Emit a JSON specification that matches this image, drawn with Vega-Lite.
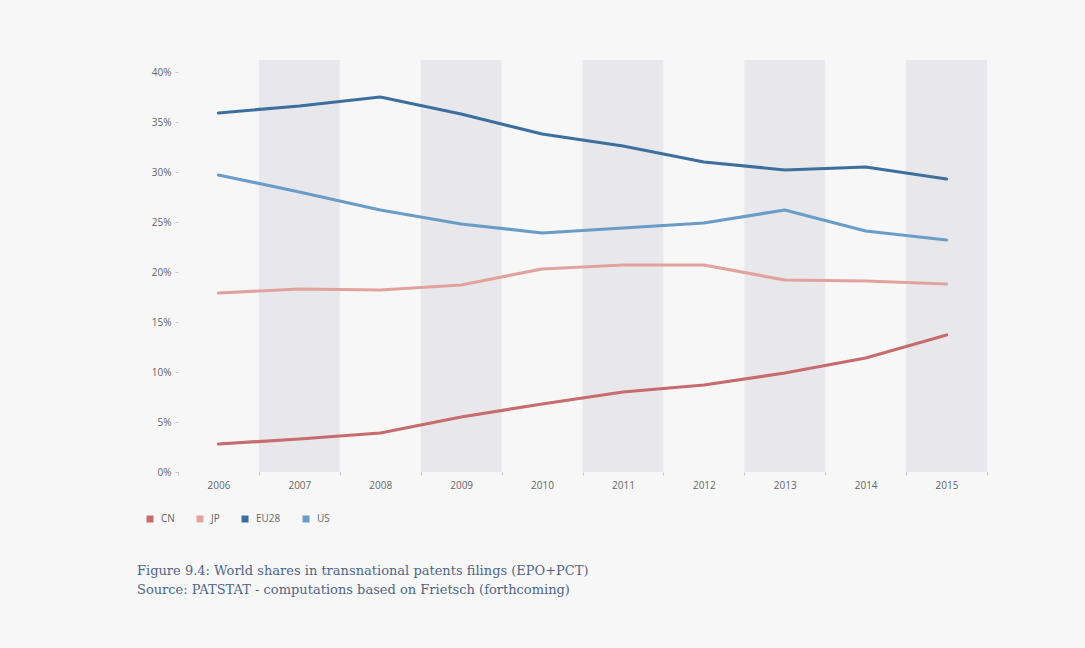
{
  "$schema": "https://vega.github.io/schema/vega-lite/v6.json",
  "width": 809,
  "height": 412,
  "autosize": "none",
  "padding": {"left": 178, "top": 60, "right": 98, "bottom": 176},
  "background": "#f7f7f8",
  "config": {"view": {"stroke": null}, "font": "Open Sans"},
  "datasets": {
    "bands": [
      {"year": 2007}, {"year": 2009}, {"year": 2011}, {"year": 2013}, {"year": 2015}
    ],
    "shares": [
      {"year": 2006, "region": "CN", "share": 0.028},
      {"year": 2007, "region": "CN", "share": 0.033},
      {"year": 2008, "region": "CN", "share": 0.039},
      {"year": 2009, "region": "CN", "share": 0.055},
      {"year": 2010, "region": "CN", "share": 0.068},
      {"year": 2011, "region": "CN", "share": 0.080},
      {"year": 2012, "region": "CN", "share": 0.087},
      {"year": 2013, "region": "CN", "share": 0.099},
      {"year": 2014, "region": "CN", "share": 0.114},
      {"year": 2015, "region": "CN", "share": 0.137},
      {"year": 2006, "region": "JP", "share": 0.179},
      {"year": 2007, "region": "JP", "share": 0.183},
      {"year": 2008, "region": "JP", "share": 0.182},
      {"year": 2009, "region": "JP", "share": 0.187},
      {"year": 2010, "region": "JP", "share": 0.203},
      {"year": 2011, "region": "JP", "share": 0.207},
      {"year": 2012, "region": "JP", "share": 0.207},
      {"year": 2013, "region": "JP", "share": 0.192},
      {"year": 2014, "region": "JP", "share": 0.191},
      {"year": 2015, "region": "JP", "share": 0.188},
      {"year": 2006, "region": "EU28", "share": 0.359},
      {"year": 2007, "region": "EU28", "share": 0.366},
      {"year": 2008, "region": "EU28", "share": 0.375},
      {"year": 2009, "region": "EU28", "share": 0.358},
      {"year": 2010, "region": "EU28", "share": 0.338},
      {"year": 2011, "region": "EU28", "share": 0.326},
      {"year": 2012, "region": "EU28", "share": 0.310},
      {"year": 2013, "region": "EU28", "share": 0.302},
      {"year": 2014, "region": "EU28", "share": 0.305},
      {"year": 2015, "region": "EU28", "share": 0.293},
      {"year": 2006, "region": "US", "share": 0.297},
      {"year": 2007, "region": "US", "share": 0.280},
      {"year": 2008, "region": "US", "share": 0.262},
      {"year": 2009, "region": "US", "share": 0.248},
      {"year": 2010, "region": "US", "share": 0.239},
      {"year": 2011, "region": "US", "share": 0.244},
      {"year": 2012, "region": "US", "share": 0.249},
      {"year": 2013, "region": "US", "share": 0.262},
      {"year": 2014, "region": "US", "share": 0.241},
      {"year": 2015, "region": "US", "share": 0.232}
    ]
  },
  "title": {
    "text": ["Figure 9.4: World shares in transnational patents filings (EPO+PCT)", "Source:  PATSTAT - computations based on Frietsch (forthcoming)"],
    "orient": "bottom",
    "anchor": "start",
    "dx": -8,
    "offset": 41,
    "font": "DejaVu Serif",
    "fontSize": 13,
    "fontWeight": "normal",
    "color": "#4f6685",
    "lineHeight": 19
  },
  "encoding": {
    "x": {
      "field": "year",
      "type": "ordinal",
      "scale": {"domain": [2006, 2007, 2008, 2009, 2010, 2011, 2012, 2013, 2014, 2015], "paddingInner": 0, "paddingOuter": 0},
      "axis": {
        "title": null,
        "labelAngle": 0,
        "labelColor": "#666666",
        "labelFontSize": 10,
        "labelPadding": 5,
        "domain": false,
        "tickBand": "extent",
        "tickSize": 3,
        "tickColor": "#c8c8c8"
      }
    }
  },
  "layer": [
    {
      "data": {"name": "bands"},
      "mark": {"type": "bar", "color": "#e8e8ec"}
    },
    {
      "data": {"name": "shares"},
      "mark": {"type": "line", "strokeWidth": 3.2, "strokeCap": "round", "strokeJoin": "round"},
      "encoding": {
        "y": {
          "field": "share",
          "type": "quantitative",
          "scale": {"domain": [0, 0.412], "nice": false},
          "axis": {
            "title": null,
            "values": [0, 0.05, 0.1, 0.15, 0.2, 0.25, 0.3, 0.35, 0.4],
            "format": ".0%",
            "labelColor": "#666666",
            "labelFontSize": 10,
            "labelPadding": 4,
            "domain": false,
            "grid": false,
            "tickSize": 3,
            "tickColor": "#c8c8c8"
          }
        },
        "color": {
          "field": "region",
          "type": "nominal",
          "scale": {"domain": ["CN", "JP", "EU28", "US"], "range": ["#c76b6c", "#e2a29c", "#3c6f9e", "#6a9cc8"]},
          "legend": {
            "title": null,
            "orient": "none",
            "legendX": -33,
            "legendY": 454,
            "direction": "horizontal",
            "symbolType": "square",
            "symbolSize": 49,
            "symbolStrokeWidth": 0,
            "labelFontSize": 10,
            "labelColor": "#666666",
            "columnPadding": 20,
            "labelOffset": 6,
            "encode": {
              "symbols": {
                "update": {
                  "fill": {"scale": "color", "field": "value"},
                  "fillOpacity": {"value": 1}
                }
              }
            }
          }
        }
      }
    }
  ]
}
